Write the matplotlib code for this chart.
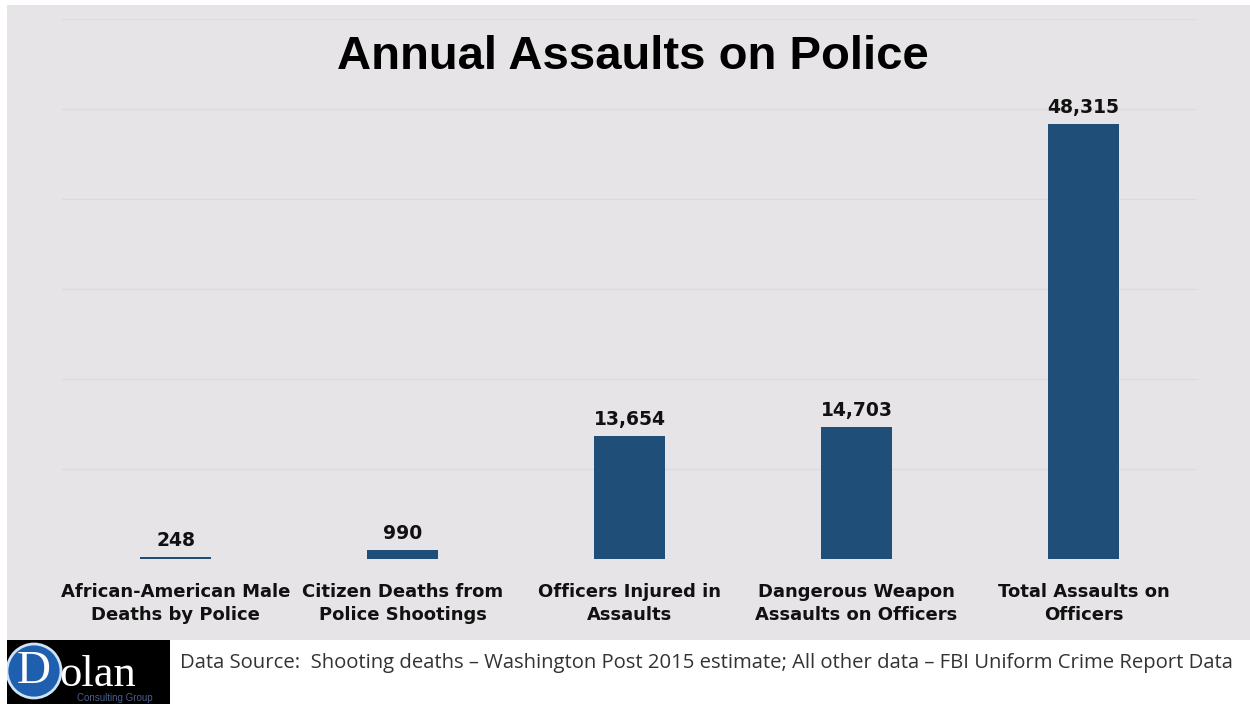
import matplotlib
matplotlib.use("Agg")
import matplotlib.pyplot as plt
from matplotlib.patches import Rectangle, Circle

# Data
categories = ["African-American Male\nDeaths by Police",
              "Citizen Deaths from\nPolice Shootings",
              "Officers Injured in\nAssaults",
              "Dangerous Weapon\nAssaults on Officers",
              "Total Assaults on\nOfficers"]
values = [248, 990, 13654, 14703, 48315]
value_labels = ["248", "990", "13,654", "14,703", "48,315"]

title = "Annual Assaults on Police"
source = ("Data Source:  Shooting deaths \u2013 Washington Post 2015 estimate; "
          "All other data \u2013 FBI Uniform Crime Report Data")

bg = "#e6e4e6"
bar_color = "#1f4e79"

W, H = 1250, 704
fig = plt.figure(figsize=(12.5, 7.04), dpi=100, facecolor="white")

# gray slide panel (behind everything)
fig.patches.append(Rectangle((7 / W, (H - 640) / H), (W - 7) / W, (640 - 5) / H,
                             transform=fig.transFigure, facecolor=bg,
                             edgecolor="none", zorder=-10))

ax = fig.add_axes([62 / W, 145 / H, 1135 / W, 540 / H])
ax.set_facecolor(bg)
x = range(len(categories))
bars = ax.bar(x, values, width=0.31, color=bar_color, zorder=2)

ax.set_xlim(-0.5, 4.5)
ax.set_ylim(0, 60000)
ax.set_yticks(range(0, 60001, 10000))
ax.yaxis.grid(True, color="#dcdadc", linewidth=1)
ax.set_axisbelow(True)
ax.tick_params(axis="y", left=False, labelleft=False)
ax.tick_params(axis="x", length=0, pad=17)
ax.set_xticks(list(x))
ax.set_xticklabels(categories, fontsize=13, fontweight="bold",
                   family="DejaVu Sans", color="#111111", linespacing=1.4)
for s in ax.spines.values():
    s.set_visible(False)

for b, lab in zip(bars, value_labels):
    ax.annotate(lab, (b.get_x() + b.get_width() / 2, b.get_height()),
                xytext=(0, 5), textcoords="offset points", ha="center",
                va="bottom", fontsize=13.5, fontweight="bold",
                family="DejaVu Sans", color="#111111")

fig.text(633 / W, (H - 57) / H, title, ha="center", va="center",
         fontsize=34, fontweight="bold", family="Liberation Sans", color="black")

# source line
fig.text(180 / W, (H - 663) / H, source, ha="left", va="center",
         fontsize=14.6, family="Open Sans", color="#333333")

# logo
logo_ax = fig.add_axes([7 / W, 0, 163 / W, 64 / H])
logo_ax.set_xlim(0, 163)
logo_ax.set_ylim(0, 64)
logo_ax.axis("off")
logo_ax.add_patch(Rectangle((0, 0), 163, 64, facecolor="black", edgecolor="none"))
logo_ax.add_patch(Circle((27, 33), 27, facecolor="#1f5fb0", edgecolor="#cfe3f7",
                         linewidth=2))
logo_ax.text(27, 32, "D", ha="center", va="center", fontsize=34,
             family="Liberation Serif", color="white")
logo_ax.text(52, 29, "olan", ha="left", va="center", fontsize=32,
             family="Liberation Serif", color="white")
logo_ax.text(70, 1, "Consulting Group", ha="left", va="bottom", fontsize=7,
             family="Liberation Sans", color="#4a5f8a")

fig.savefig("out.png", dpi=100, facecolor="white")
